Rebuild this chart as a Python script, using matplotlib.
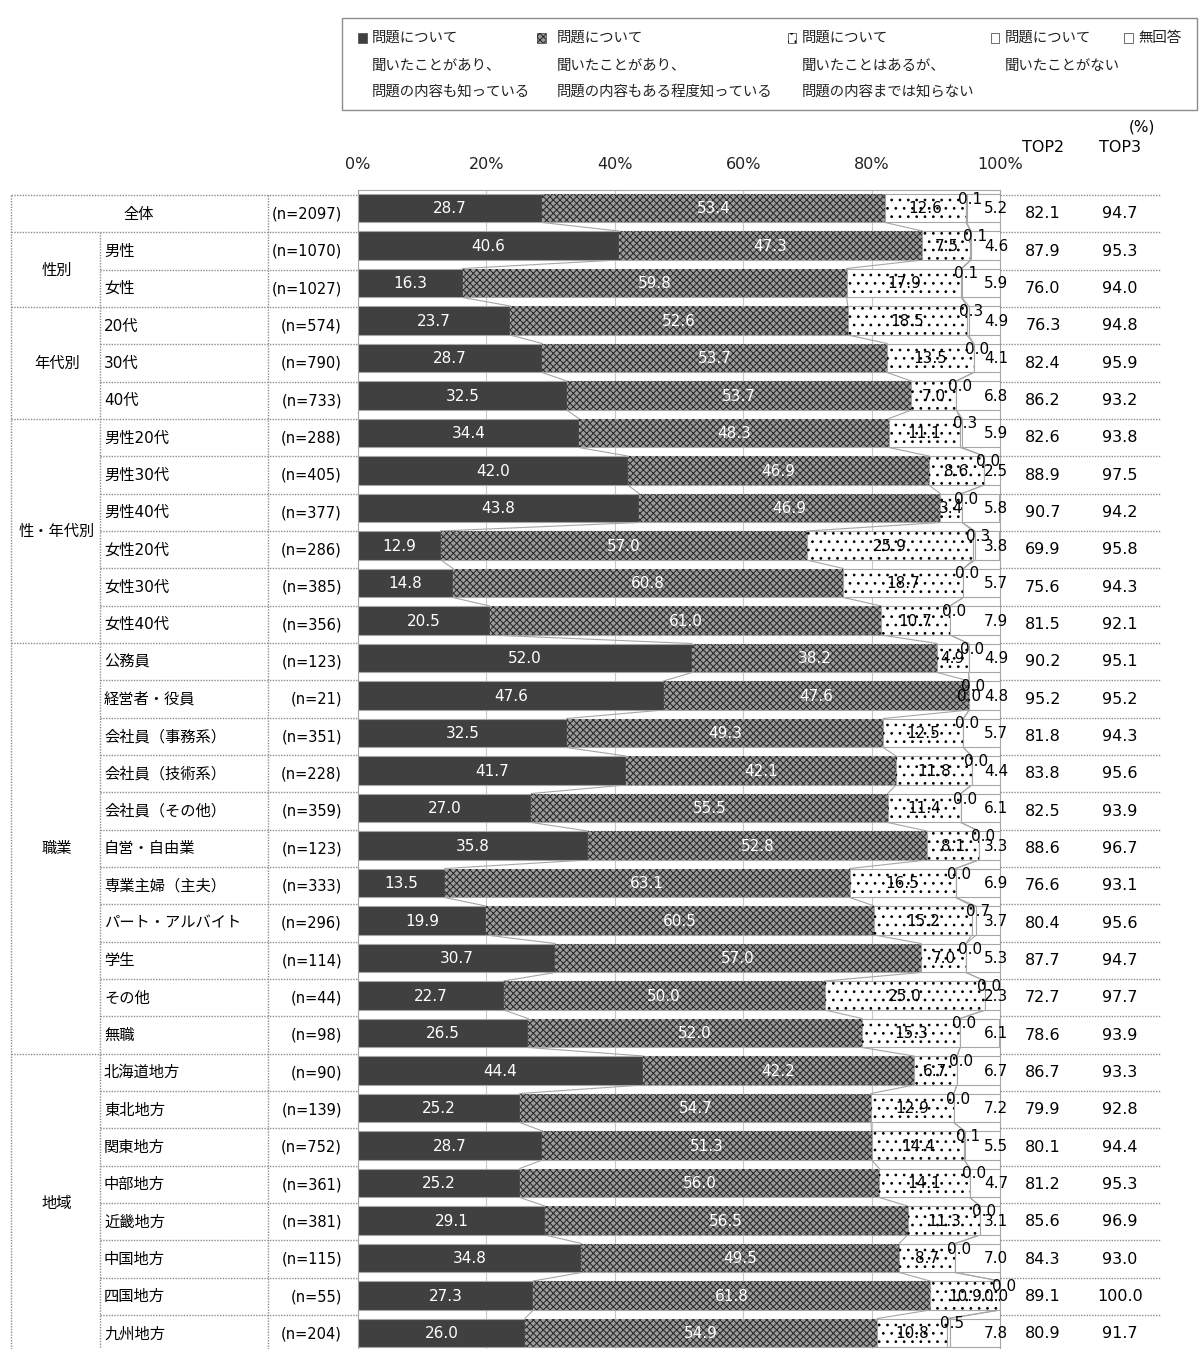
import matplotlib
matplotlib.use("Agg")
import matplotlib.pyplot as plt
from matplotlib.patches import Rectangle
from matplotlib.lines import Line2D
import numpy as np

plt.rcParams["font.family"] = ["DejaVu Sans", "Noto Sans CJK JP"]
plt.rcParams["hatch.linewidth"] = 0.75

# ---------------------------------------------------------------- data
categories = ["全体", "男性", "女性", "20代", "30代", "40代",
              "男性20代", "男性30代", "男性40代", "女性20代", "女性30代", "女性40代",
              "公務員", "経営者・役員", "会社員（事務系）", "会社員（技術系）", "会社員（その他）",
              "自営・自由業", "専業主婦（主夫）", "パート・アルバイト", "学生", "その他", "無職",
              "北海道地方", "東北地方", "関東地方", "中部地方", "近畿地方", "中国地方",
              "四国地方", "九州地方"]
sample_n = [2097, 1070, 1027, 574, 790, 733, 288, 405, 377, 286, 385, 356,
            123, 21, 351, 228, 359, 123, 333, 296, 114, 44, 98,
            90, 139, 752, 361, 381, 115, 55, 204]
groups = [("全体", 0, 1), ("性別", 1, 3), ("年代別", 3, 6), ("性・年代別", 6, 12),
          ("職業", 12, 23), ("地域", 23, 31)]

known_well = [28.7, 40.6, 16.3, 23.7, 28.7, 32.5, 34.4, 42.0, 43.8, 12.9, 14.8, 20.5,
              52.0, 47.6, 32.5, 41.7, 27.0, 35.8, 13.5, 19.9, 30.7, 22.7, 26.5,
              44.4, 25.2, 28.7, 25.2, 29.1, 34.8, 27.3, 26.0]
known_partly = [53.4, 47.3, 59.8, 52.6, 53.7, 53.7, 48.3, 46.9, 46.9, 57.0, 60.8, 61.0,
                38.2, 47.6, 49.3, 42.1, 55.5, 52.8, 63.1, 60.5, 57.0, 50.0, 52.0,
                42.2, 54.7, 51.3, 56.0, 56.5, 49.5, 61.8, 54.9]
heard_only = [12.6, 7.5, 17.9, 18.5, 13.5, 7.0, 11.1, 8.6, 3.4, 25.9, 18.7, 10.7,
              4.9, 0.0, 12.5, 11.8, 11.4, 8.1, 16.5, 15.2, 7.0, 25.0, 15.3,
              6.7, 12.9, 14.4, 14.1, 11.3, 8.7, 10.9, 10.8]
series_four = [0.1, 0.1, 0.1, 0.3, 0.0, 0.0, 0.3, 0.0, 0.0, 0.3, 0.0, 0.0,
               0.0, 0.0, 0.0, 0.0, 0.0, 0.0, 0.0, 0.7, 0.0, 0.0, 0.0,
               0.0, 0.0, 0.1, 0.0, 0.0, 0.0, 0.0, 0.5]
series_five = [5.2, 4.6, 5.9, 4.9, 4.1, 6.8, 5.9, 2.5, 5.8, 3.8, 5.7, 7.9,
               4.9, 4.8, 5.7, 4.4, 6.1, 3.3, 6.9, 3.7, 5.3, 2.3, 6.1,
               6.7, 7.2, 5.5, 4.7, 3.1, 7.0, 0.0, 7.8]
top2 = [82.1, 87.9, 76.0, 76.3, 82.4, 86.2, 82.6, 88.9, 90.7, 69.9, 75.6, 81.5,
        90.2, 95.2, 81.8, 83.8, 82.5, 88.6, 76.6, 80.4, 87.7, 72.7, 78.6,
        86.7, 79.9, 80.1, 81.2, 85.6, 84.3, 89.1, 80.9]
top3 = [94.7, 95.3, 94.0, 94.8, 95.9, 93.2, 93.8, 97.5, 94.2, 95.8, 94.3, 92.1,
        95.1, 95.2, 94.3, 95.6, 93.9, 96.7, 93.1, 95.6, 94.7, 97.7, 93.9,
        93.3, 92.8, 94.4, 95.3, 96.9, 93.0, 100.0, 91.7]

legend_entries = [
    ["問題について", "聞いたことがあり、", "問題の内容も知っている"],
    ["問題について", "聞いたことがあり、", "問題の内容もある程度知っている"],
    ["問題について", "聞いたことはあるが、", "問題の内容までは知らない"],
    ["問題について", "聞いたことがない"],
    ["無回答"],
]
x_ticks = [0, 20, 40, 60, 80, 100]

# ---------------------------------------------------------------- layout helpers
W, H = 1200, 1349
fig = plt.figure(figsize=(W / 100, H / 100), dpi=100)


def fx(px):
    return px / W


def fy(py):
    return 1 - py / H


ROW0, PITCH, TOPLINE = 214.0, 37.33, 195.0
GRID = "#8c8c8c"
EDGE = "#a6a6a6"


def row_y(k):
    return ROW0 + PITCH * k


def hline(x0, x1, py):
    fig.add_artist(Line2D([fx(x0), fx(x1)], [fy(py), fy(py)], transform=fig.transFigure,
                          color=GRID, lw=1.0, ls=(0, (1, 1))))


def vline(px, y0, y1):
    fig.add_artist(Line2D([fx(px), fx(px)], [fy(y0), fy(y1)], transform=fig.transFigure,
                          color=GRID, lw=1.0, ls=(0, (1, 1))))


# ---------------------------------------------------------------- bar axes
ax = fig.add_axes([fx(358), 0, 642 / W, (H - 190) / H])
n = len(categories)
y = np.arange(n)
bh = 0.773

styles = [
    dict(face="#404040", hatch=None, hcol=None, txt="white"),
    dict(face="#9c9c9c", hatch="xxxxx", hcol="#2a2a2a", txt="white"),
    dict(face="white", hatch="..", hcol="#000000", txt="black"),
    dict(face="white", hatch=None, hcol=None, txt="black"),
    dict(face="white", hatch=None, hcol=None, txt="black"),
]
series = [known_well, known_partly, heard_only, series_four, series_five]

left = np.zeros(n)
bounds = [left.copy()]
for vals, st in zip(series, styles):
    vals = np.asarray(vals)
    ax.barh(y, vals, left=left, height=bh, color=st["face"], edgecolor=EDGE,
            linewidth=0.8, zorder=3)
    if st["hatch"]:
        ax.barh(y, vals, left=left, height=bh, color="none", edgecolor=st["hcol"],
                hatch=st["hatch"], linewidth=0, zorder=3.5)
    left = left + vals
    bounds.append(left.copy())

# series lines joining segment boundaries of neighbouring bars
for j in range(1, 5):
    b = bounds[j]
    for k in range(n - 1):
        ax.plot([b[k], b[k + 1]], [k + bh / 2, k + 1 - bh / 2], color=EDGE, lw=0.8,
                zorder=2.5)

# value labels
for k in range(n):
    for j in range(3):
        v = series[j][k]
        cx = bounds[j][k] + v / 2
        ax.text(cx, k + 0.02, f"{v:.1f}", ha="center", va="center", fontsize=11,
                color=styles[j]["txt"], zorder=5)
    # the thin fourth segment gets its label lifted towards the bar's top edge
    v4 = series_four[k]
    ax.text(bounds[3][k] + v4 / 2 + 0.6, k - 0.24, f"{v4:.1f}", ha="center",
            va="center", fontsize=11, color="black", zorder=5)
    ax.text(99.4, k + 0.02, f"{series_five[k]:.1f}", ha="center", va="center",
            fontsize=11, color="black", zorder=5)

ax.set_xlim(0, 100)
ax.set_ylim((H - 208) / 37.5, (190 - 208) / 37.5)
ax.set_xticks(x_ticks)
ax.set_xticklabels([f"{t}%" for t in x_ticks])
ax.xaxis.tick_top()
ax.tick_params(axis="x", length=0, pad=13, labelsize=11.5, colors="#222222")
ax.set_yticks([])
ax.set_axisbelow(True)
ax.grid(axis="x", color="#c8c8c8", lw=0.8)
for s in ["left", "top", "right"]:
    ax.spines[s].set_color(EDGE)
    ax.spines[s].set_linewidth(0.8)
ax.spines["bottom"].set_visible(False)

# ---------------------------------------------------------------- table on the left
group_starts = {g[1] for g in groups}
for k in range(n + 1):
    py = TOPLINE + PITCH * k
    if py > H:
        break
    x0 = 11 if k in group_starts or k == 0 else 100
    hline(x0, 357, py)
    hline(1000, 1160, py)
vline(11, TOPLINE, H)
vline(100, TOPLINE + PITCH, H)
vline(268, TOPLINE, H)

for name, s, e in groups:
    cy = (row_y(s) + row_y(e - 1)) / 2
    if e - s == 1 and name == categories[s]:
        fig.text(fx(139), fy(cy), name, ha="center", va="center", fontsize=11)
    else:
        fig.text(fx(57), fy(cy), name, ha="center", va="center", fontsize=11)

for k in range(n):
    py = row_y(k)
    if k > 0:
        fig.text(fx(104), fy(py), categories[k], ha="left", va="center", fontsize=11)
    fig.text(fx(342), fy(py), f"(n={sample_n[k]})", ha="right", va="center",
             fontsize=10.5)
    fig.text(fx(1043), fy(py), f"{top2[k]:.1f}", ha="center", va="center", fontsize=11.5)
    fig.text(fx(1120), fy(py), f"{top3[k]:.1f}", ha="center", va="center", fontsize=11.5)

fig.text(fx(1043), fy(148), "TOP2", ha="center", va="center", fontsize=11.5)
fig.text(fx(1120), fy(148), "TOP3", ha="center", va="center", fontsize=11.5)
fig.text(fx(1142), fy(127), "(%)", ha="center", va="center", fontsize=11)

# ---------------------------------------------------------------- legend box
fig.add_artist(Rectangle((fx(342), fy(110)), (1197 - 342) / W, (110 - 18) / H,
                         transform=fig.transFigure, facecolor="white",
                         edgecolor="#8c8c8c", lw=1.0))
legend_x = [(362, 372), (541, 557), (792, 802), (995, 1005), (1128, 1138)]
line_y = [38, 66, 92]
for (mx, tx), lines, st in zip(legend_x, legend_entries, styles):
    sq = 9
    fig.add_artist(Rectangle((fx(mx - sq / 2), fy(line_y[0] + sq / 2)), sq / W, sq / H,
                             transform=fig.transFigure, facecolor=st["face"],
                             edgecolor="#555555", lw=0.6))
    if st["hatch"]:
        fig.add_artist(Rectangle((fx(mx - sq / 2), fy(line_y[0] + sq / 2)), sq / W,
                                 sq / H, transform=fig.transFigure, facecolor="none",
                                 edgecolor=st["hcol"], hatch=st["hatch"], lw=0))
    for i, t in enumerate(lines):
        fig.text(fx(tx), fy(line_y[i]), t, ha="left", va="center", fontsize=10.4,
                 color="#222222")

fig.savefig("out.png", dpi=100, facecolor="white")
